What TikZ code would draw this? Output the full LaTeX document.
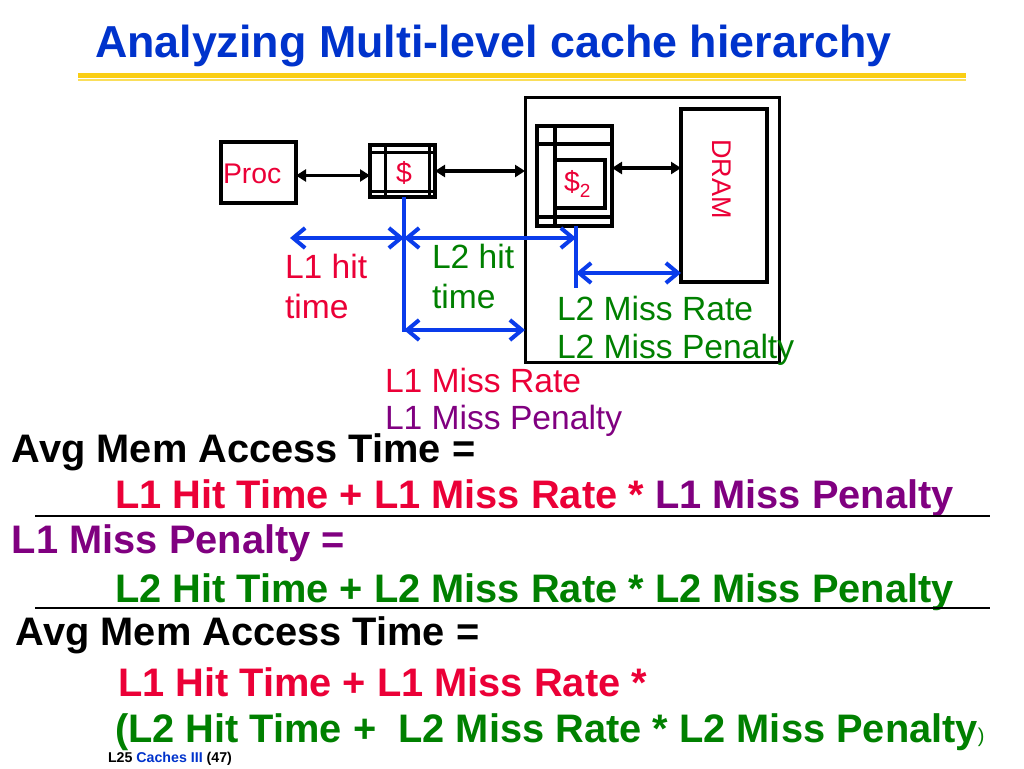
\documentclass[tikz,border=0pt]{standalone}
\usepackage{fontspec}
\setmainfont{Liberation Sans}
\usetikzlibrary{arrows.meta}
\definecolor{tblue}{RGB}{0,51,204}
\definecolor{ared}{RGB}{235,0,55}
\definecolor{agreen}{RGB}{0,128,0}
\definecolor{apurple}{RGB}{128,0,128}
\definecolor{ablue}{RGB}{10,60,235}
\definecolor{gold1}{RGB}{250,206,20}
\definecolor{gold2}{RGB}{250,222,90}
\newcommand\fs[1]{\fontsize{#1}{#1}\selectfont}
\begin{document}
\begin{tikzpicture}[x=1pt,y=-1pt,
  txt/.style={inner sep=0pt,outer sep=0pt,anchor=base west},
  cbox/.style={draw=black,line width=4pt,inner sep=0pt,outer sep=0pt},
  cline/.style={draw=black,line width=3pt},
  blu/.style={draw=ablue,line width=4pt},
  blarr/.style={draw=ablue,line width=4pt,{Straight Barb[length=12pt,width=20pt]}-{Straight Barb[length=12pt,width=20pt]}},
  blkarr/.style={draw=black,line width=3.5pt,{Triangle[length=10pt,width=12pt]}-{Triangle[length=10pt,width=12pt]}},
  lbl/.style={txt,font=\fs{33.6}},
  eqn/.style={txt,font=\fs{39.8}\bfseries}]
\useasboundingbox[fill=white] (0,0) rectangle (1024,768);

% title and rule
\node[txt,text=tblue,font=\fs{44.8}\bfseries] (title) at (95,58) {Analyzing Multi-level cache hierarchy};
\draw[gold1,line width=5pt] (78,75.5) -- (966,75.5);
\draw[gold2,line width=1.5pt] (78,80) -- (966,80);

% boxes
\node[cbox,minimum width=254pt,minimum height=265pt,line width=3pt] (big) at (652,229.5) {};
\node[cbox,minimum width=86pt,minimum height=173pt,line width=3.5pt] (dram) at (724,195.5) {};
\node[cbox,minimum width=75pt,minimum height=61pt] (proc) at (258.5,172.5) {};
\node[cbox,minimum width=65pt,minimum height=52pt] (l1) at (402.5,171) {};
\node[cbox,minimum width=75pt,minimum height=100pt] (l2) at (574.5,176) {};
\node[cbox,minimum width=50pt,minimum height=48pt,line width=3.5pt] (l2in) at (580,184) {};

% L1 cache internal lines
\draw[cline] ([xshift=15pt]l1.north west) -- ([xshift=15pt]l1.south west);
\draw[cline] ([xshift=-6pt]l1.north east) -- ([xshift=-6pt]l1.south east);
\draw[cline] ([yshift=-7pt]l1.north west) -- ([yshift=-7pt]l1.north east);
\draw[cline] ([yshift=6pt]l1.south west) -- ([yshift=6pt]l1.south east);
% L2 cache internal lines
\draw[cline,line width=3.5pt] ([xshift=18pt]l2.north west) -- ([xshift=18pt]l2.south west);
\draw[cline,line width=3.5pt] ([yshift=-18pt]l2.north west) -- ([yshift=-18pt]l2.north east);
\draw[cline,line width=3.5pt] ([yshift=9pt]l2.south west) -- ([yshift=9pt]l2.south east);

% box texts
\node[txt,text=ared,font=\fs{28.4}] (proct) at (223,183) {Proc};
\node[inner sep=0pt,anchor=base,text=ared,font=\fs{28.4}] (l1t) at (404,182) {\$};
\node[txt,text=ared,font=\fs{28.4}] (l2t) at (564,191) {\$\raisebox{-6pt}{\fs{19}2}};
\node[inner sep=0pt,rotate=-90,text=ared,font=\fs{27}] (dramt) at (722,179) {DRAM};

% black arrows
\draw[blkarr] ([yshift=-3pt]proc.east) -- ([yshift=-3pt]proc.east -| l1.west);
\draw[blkarr] (l1.east) -- (l1.east -| big.west);
\draw[blkarr] ([yshift=8pt]l2.east) -- ([yshift=8pt]l2.east -| dram.west);

% blue timing lines
\coordinate (a1) at (290,238);
\coordinate (v1b) at (404,332);
\draw[blu] (l1.south -| v1b) -- (v1b);
\draw[blarr] (a1) -- (v1b |- a1);
\draw[blarr] (v1b |- a1) -- (576,238) coordinate (a2);
\draw[blu] (a2 |- l2.south) -- (576,288) coordinate (v2b);
\draw[blarr] (576,273) -- (dram.west |- 0,273);
\draw[blarr] (404,330) -- (big.west |- 0,330);

% labels
\node[lbl,text=ared] (l1hit) at (285,278) {L1 hit};
\node[lbl,text=ared] (l1time) at (285,318) {time};
\node[lbl,text=agreen] (l2hit) at (432,268) {L2 hit};
\node[lbl,text=agreen] (l2time) at (432,308) {time};
\node[lbl,text=agreen] (l2mr) at (557,320) {L2 Miss Rate};
\node[lbl,text=agreen] (l2mp) at (557,358) {L2 Miss Penalty};
\node[lbl,text=ared] (l1mr) at (385,392) {L1 Miss Rate};
\node[lbl,text=apurple] (l1mp) at (385,429) {L1 Miss Penalty};

% equations
\node[eqn] (e1) at (12,462) {Avg Mem Access Time =};
\node[eqn] (e2) at (115,508) {\color{ared}L1 Hit Time + L1 Miss Rate * \color{apurple}L1 Miss Penalty};
\draw[black,line width=1.5pt] (35,516) -- (990,516);
\node[eqn,text=apurple] (e3) at (12,553) {L1 Miss Penalty =};
\node[eqn,text=agreen] (e4) at (115,602) {L2 Hit Time + L2 Miss Rate * L2 Miss Penalty};
\draw[black,line width=1.5pt] (35,608) -- (990,608);
\node[eqn] (e5) at (16,645) {Avg Mem Access Time =};
\node[eqn,text=ared] (e6) at (118,696) {L1 Hit Time + L1 Miss Rate *};
\node[eqn,text=agreen] (e7) at (115,742) {(L2 Hit Time +\ \ L2 Miss Rate * L2 Miss Penalty{\fs{20}\mdseries )}};

% footer
\node[txt,font=\fs{14.2}\bfseries] (foot) at (108,762) {L25 \textcolor{tblue}{Caches III} (47)};
\end{tikzpicture}
\end{document}
